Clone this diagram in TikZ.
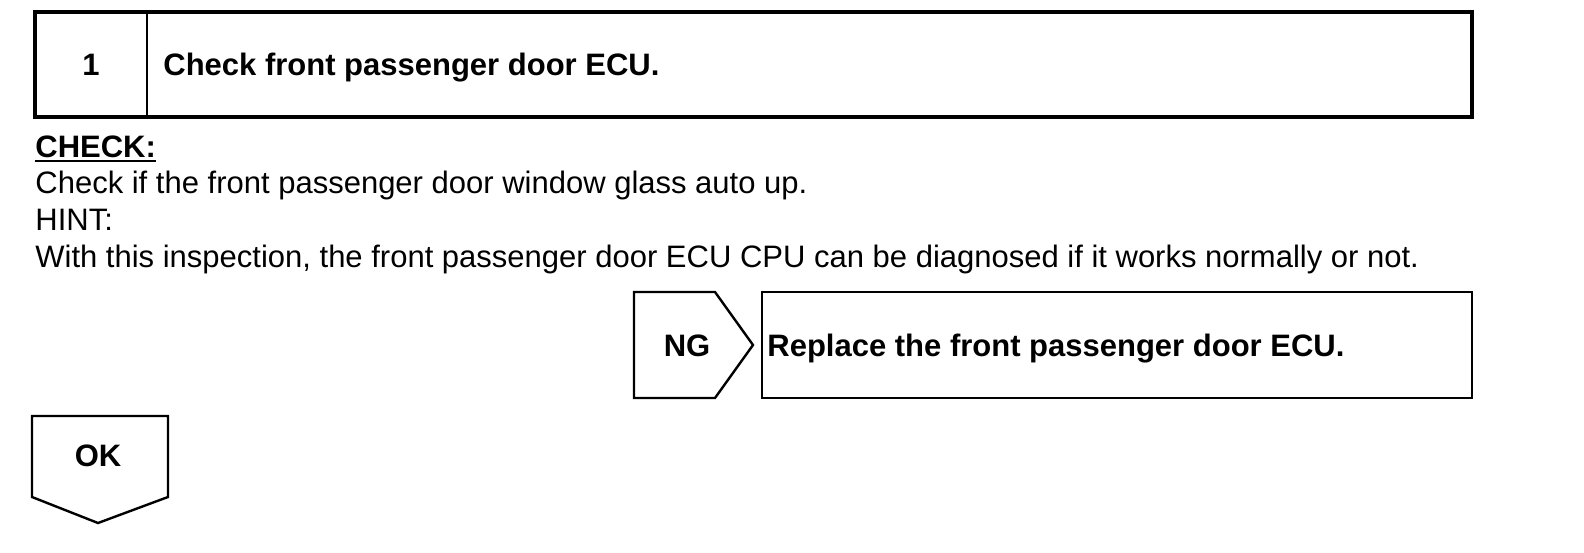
\documentclass[tikz,border=0pt]{standalone}
\usepackage{fontspec}
\setmainfont{Liberation Sans}
\begin{document}
\begin{tikzpicture}[x=0.5pt,y=-0.5pt, line join=miter,
  txt/.style={inner sep=0pt, anchor=base west, font=\fontsize{15.5}{18}\selectfont},
  btxt/.style={inner sep=0pt, anchor=base west, font=\fontsize{15.5}{18}\selectfont\bfseries},
  ctxt/.style={inner sep=0pt, anchor=base, font=\fontsize{15.5}{18}\selectfont\bfseries},
  heavy/.style={draw=black, line width=1.6pt},
  light/.style={draw=black, line width=1.2pt}]
\useasboundingbox (0,0) rectangle (1584,552);
% step header box
\draw[heavy] (35,12) rectangle (1472,117);
\draw[light] (147,12) -- (147,117);
\node[ctxt] (num) at (91,75) {1};
\node[btxt] (title) at (163,75) {Check front passenger door ECU.};
% check text
\node[btxt] (chk) at (35,157) {CHECK:};
\draw[line width=1.3pt] ([yshift=-2pt]chk.base west) -- ([yshift=-2pt]chk.base east);
\node[txt] (l1) at (35,193) {Check if the front passenger door window glass auto up.};
\node[txt] (hint) at (35,230) {HINT:};
\node[txt] (l2) at (35,267) {With this inspection, the front passenger door ECU CPU can be diagnosed if it works normally or not.};
% NG arrow
\draw[light] (634,292) -- (715,292) -- (753,345) -- (715,398) -- (634,398) -- cycle;
\node[ctxt] (ng) at (687,356) {NG};
\draw[light] (762,292) rectangle (1472,398);
\node[btxt] (repl) at (767,356) {Replace the front passenger door ECU.};
% OK arrow
\draw[light] (32,416) -- (168,416) -- (168,497) -- (98,523) -- (32,497) -- cycle;
\node[ctxt] (ok) at (98,466) {OK};
\end{tikzpicture}
\end{document}
